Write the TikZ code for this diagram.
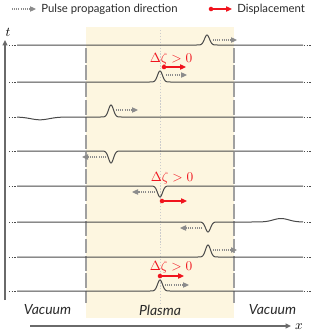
\documentclass[tikz,border=0pt]{standalone}
\usepackage{fontspec}
\newfontfamily\lato{Lato}
\usetikzlibrary{arrows.meta}
\definecolor{plasmaY}{HTML}{FDF6E0}
\definecolor{linecol}{HTML}{4A4A4A}
\definecolor{pulsegray}{HTML}{8C8C8C}
\definecolor{bndgray}{HTML}{A0A0A0}
\definecolor{axisgray}{HTML}{6A6A6A}
\definecolor{redc}{HTML}{F0141E}
\definecolor{txtcol}{HTML}{2A2A2A}
\newcommand\prow[3]{%
  \pgfmathsetmacro\pa{#2-12}\pgfmathsetmacro\pb{#2+12}%
  \draw[rowline] (17,#1) -- (\pa,#1) -- plot[domain=\pa:\pb,samples=49,smooth] (\x,{#1-(#3)*exp(-(\x-(#2))*(\x-(#2))/12.25)}) -- (303,#1);
  \draw[stub] (9,#1) -- (16,#1);
  \draw[stub] (304,#1) -- (311,#1);}
\begin{document}
\begin{tikzpicture}[x=0.75pt,y=-0.75pt,
  rowline/.style={draw=linecol,line width=0.75pt},
  stub/.style={draw=linecol,line width=0.6pt,dash pattern=on 1pt off 1pt},
  pulsearrow/.style={draw=pulsegray,line width=0.8pt,dash pattern=on 0.8pt off 0.8pt,-{Triangle[length=4.5pt,width=4pt]}},
  disparrow/.style={draw=redc,line width=0.9pt,-{Triangle[length=4.5pt,width=4pt]}},
  dot/.style={circle,fill=redc,inner sep=0pt,minimum size=3.4pt},
  boundary/.style={draw=bndgray,line width=1.1pt,dash pattern=on 11pt off 2pt},
  axis/.style={draw=axisgray,line width=1.1pt,-{Triangle[length=4pt,width=3.5pt]}},
  dz/.style={text=redc,font=\normalsize,anchor=base,inner sep=0pt},
  region/.style={font=\lato\itshape\fontsize{10.5}{12}\selectfont,text=txtcol,inner sep=0pt},
  legend/.style={font=\lato\fontsize{8.5}{10}\selectfont,text=txtcol,anchor=west,inner sep=0pt}]
\useasboundingbox (0,0) rectangle (316,336);
% plasma region
\fill[plasmaY] (86,27) rectangle (234,318);
\draw[draw=black!20,line width=0.6pt,dash pattern=on 1pt off 1.2pt] (160,30) -- (160,303);
\draw[boundary] (86,48) -- (86,303);
\draw[boundary] (234,48) -- (234,303);
% legend
\coordinate (l1a) at (12,9); \coordinate (l1b) at (36,9);
\draw[pulsearrow] (l1a) -- (l1b);
\node[legend] (leg1) at (41,9.5) {Pulse propagation direction};
\node[dot] (l2a) at (211,9) {}; \coordinate (l2b) at (232,9);
\draw[disparrow] (l2a.center) -- (l2b);
\node[legend] (leg2) at (237,9.5) {Displacement};
% axes
\coordinate (t0) at (5,300); \coordinate (t1) at (5,40);
\draw[axis] (t0) -- (t1);
\node[inner sep=0pt] (tlab) at (8,32) {$t$};
\coordinate (x0) at (30,326); \coordinate (x1) at (291,326);
\draw[axis] (x0) -- (x1);
\node[inner sep=0pt] (xlab) at (299,327) {$x$};
% rows
\prow{45}{207}{10}
\prow{82}{160}{11}
% row 3 with vacuum dip
\draw[rowline] plot[domain=17:64,samples=40,smooth] (\x,{117+2.8*exp(-(\x-40)*(\x-40)/170)}) -- (99,117) -- plot[domain=99:123,samples=49,smooth] (\x,{117-12*exp(-(\x-111)*(\x-111)/12.25)}) -- (303,117);
\draw[stub] (9,117) -- (16,117); \draw[stub] (304,117) -- (311,117);
\prow{151}{111}{-12}
\prow{186}{160}{-11}
% row 6 with vacuum bump
\draw[rowline] (17,222) -- (196,222) -- plot[domain=196:220,samples=49,smooth] (\x,{222+10*exp(-(\x-208)*(\x-208)/12.25)}) -- plot[domain=220:303,samples=60,smooth] (\x,{222-3.5*exp(-(\x-281)*(\x-281)/120)});
\draw[stub] (9,222) -- (16,222); \draw[stub] (304,222) -- (311,222);
\prow{257}{208}{12}
\prow{291}{160}{11}
% pulse arrows
\coordinate (p1a) at (213,40); \coordinate (p1b) at (237,40); \draw[pulsearrow] (p1a) -- (p1b);
\coordinate (p2a) at (166,75); \coordinate (p2b) at (187,75); \draw[pulsearrow] (p2a) -- (p2b);
\coordinate (p3a) at (116,110); \coordinate (p3b) at (138,110); \draw[pulsearrow] (p3a) -- (p3b);
\coordinate (p4a) at (106,157); \coordinate (p4b) at (82,157); \draw[pulsearrow] (p4a) -- (p4b);
\coordinate (p5a) at (155,192); \coordinate (p5b) at (132,192); \draw[pulsearrow] (p5a) -- (p5b);
\coordinate (p6a) at (202,228); \coordinate (p6b) at (180,228); \draw[pulsearrow] (p6a) -- (p6b);
\coordinate (p7a) at (213,250); \coordinate (p7b) at (237,250); \draw[pulsearrow] (p7a) -- (p7b);
\coordinate (p8a) at (165,285); \coordinate (p8b) at (189,285); \draw[pulsearrow] (p8a) -- (p8b);
% displacement arrows
\node[dot] (d2a) at (164,67) {}; \coordinate (d2b) at (186,67); \draw[disparrow] (d2a.center) -- (d2b);
\node[dot] (d5a) at (162,201) {}; \coordinate (d5b) at (187,201); \draw[disparrow] (d5a.center) -- (d5b);
\node[dot] (d8a) at (160,276) {}; \coordinate (d8b) at (184,276); \draw[disparrow] (d8a.center) -- (d8b);
\node[dz] (dz2) at (171,62) {$\Delta\zeta > 0$};
\node[dz] (dz5) at (172,181) {$\Delta\zeta > 0$};
\node[dz] (dz8) at (171,270) {$\Delta\zeta > 0$};
% region labels
\node[region] (vac1) at (47.5,310) {Vacuum};
\node[region] (plas) at (160,310) {Plasma};
\node[region] (vac2) at (272.5,310) {Vacuum};
\end{tikzpicture}
\end{document}
